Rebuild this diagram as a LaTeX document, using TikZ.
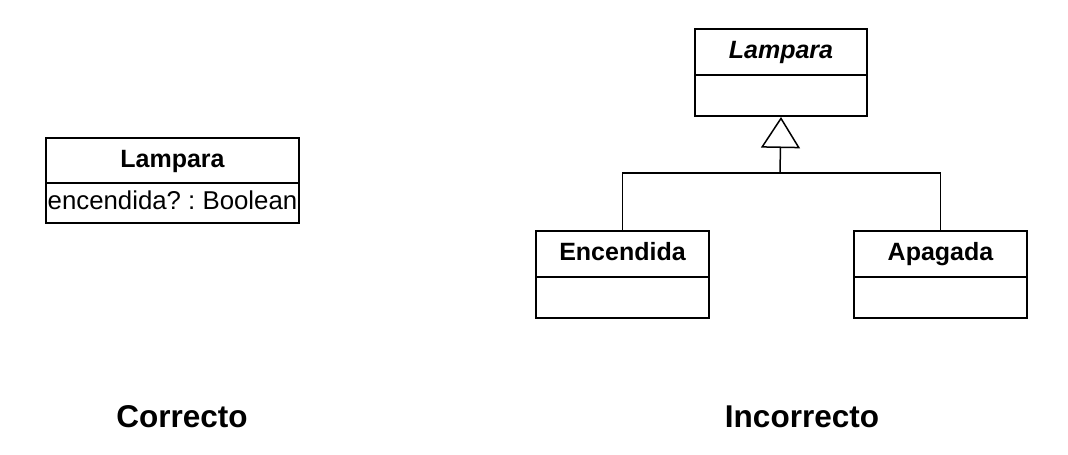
\documentclass[tikz,border=0pt]{standalone}
\usepackage{fontspec}
\setmainfont{Liberation Sans}
\usetikzlibrary{arrows.meta}
\frenchspacing
\begin{document}
\begin{tikzpicture}[x=1pt,y=-1pt,
  comp/.style={draw=black,line width=2pt,fill=white,minimum width=#1,inner sep=0pt,anchor=north west},
  titletxt/.style={font=\fontsize{25}{28}\selectfont\bfseries,text height=18pt,text depth=5pt},
  attrtxt/.style={font=\fontsize{25.8}{28}\selectfont,text height=18pt,text depth=5pt},
  caption/.style={font=\fontsize{31.5}{34}\selectfont\bfseries},
  conn/.style={line width=1.5pt,draw=black}]
\useasboundingbox (0,0) rectangle (1068,455);
% Left: correct
\node[comp=253pt,minimum height=45pt,titletxt] (lt) at (45,137) {Lampara};
\node[comp=253pt,minimum height=40pt,attrtxt] (la) at (45,182) {encendida? : Boolean};
% Right: incorrect
\node[comp=172pt,minimum height=46pt,titletxt] (rt) at (694,28) {\itshape Lampara};
\node[comp=172pt,minimum height=41pt] (rb) at (694,74) {};
\node[comp=173pt,minimum height=46pt,titletxt] (et) at (535,230) {Encendida};
\node[comp=173pt,minimum height=41pt] (eb) at (535,276) {};
\node[comp=173pt,minimum height=46pt,titletxt] (at) at (853,230) {Apagada};
\node[comp=173pt,minimum height=41pt] (ab) at (853,276) {};
\coordinate (j) at (780,173);
\draw[conn,-{Triangle[open,length=31pt,width=39pt,line width=1.5pt]}] (j) -- (rb.south);
\draw[conn] (et.north) |- (j);
\draw[conn] (at.north) |- (j);
% captions
\node[caption] (c1) at (182,417) {Correcto};
\node[caption] (c2) at (802,417) {Incorrecto};
\end{tikzpicture}
\end{document}
